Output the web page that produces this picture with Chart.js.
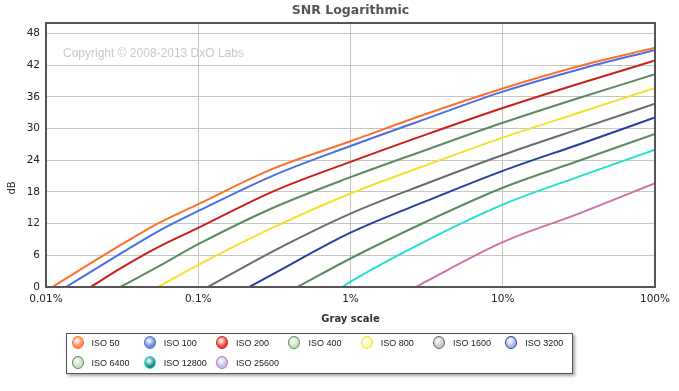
<!DOCTYPE html>
<html>
<head>
<meta charset="utf-8">
<title>SNR Logarithmic</title>
<script src="https://cdn.jsdelivr.net/npm/chart.js@4/dist/chart.umd.min.js"></script>
<style>
    html, body { margin: 0; padding: 0; background: #fff; }
    #wrap { position: relative; width: 679px; height: 391px; }
    #snr-chart { position: absolute; left: 0; top: 0; }
    #snr-legend {
        position: absolute; left: 66px; top: 333px; width: 505px; height: 39px;
        border: 1px solid #555; background: #fff;
        box-shadow: 2px 2px 3px rgba(0, 0, 0, 0.35);
        font: 9px 'Liberation Sans', Arial, sans-serif; color: #222;
    }
    #snr-legend .item { position: absolute; height: 14px; line-height: 14px; white-space: nowrap; }
    #snr-legend .dot {
        position: absolute; left: 0; top: 0; width: 10px; height: 11px;
        border: 1px solid #888; border-radius: 50%;
    }
    #snr-legend .txt { position: absolute; left: 20px; top: 0; }
</style>
</head>
<body>
<div id="wrap">
    <canvas id="snr-chart" width="679" height="391"></canvas>
    <div id="snr-legend"></div>
</div>
<script>
(function() {
    'use strict';

    // Gray levels (percent) where the curves are read
    var grayLevels = [0.0316, 0.0541, 0.1, 0.316, 1, 3.16, 10, 31.6, 100];

    // Series names
    var isoLabels = ['ISO 50', 'ISO 100', 'ISO 200', 'ISO 400', 'ISO 800',
        'ISO 1600', 'ISO 3200', 'ISO 6400', 'ISO 12800', 'ISO 25600'];

    // Gray level (percent) where each curve crosses 0 dB
    var zeroCrossing = [0.011, 0.0135, 0.0197, 0.0308, 0.0542, 0.1157, 0.2166, 0.448, 0.886, 2.69];

    // SNR in dB at each gray level (null = below 0 dB)
    var snrIso50    = [8.1, 12.0, 15.7, 22.5, 27.6, 32.8, 37.6, 41.8, 45.3];
    var snrIso100   = [6.5, 10.5, 14.4, 21.2, 26.7, 31.9, 37.0, 41.2, 44.9];
    var snrIso200   = [3.7, 7.5, 11.2, 18.2, 23.7, 28.9, 33.9, 38.5, 42.9];
    var snrIso400   = [null, 3.8, 8.1, 15.1, 20.8, 26.0, 31.1, 35.8, 40.3];
    var snrIso800   = [null, null, 4.2, 11.4, 17.7, 23.1, 28.3, 33.0, 37.7];
    var snrIso1600  = [null, null, null, 6.9, 13.9, 19.6, 25.0, 29.9, 34.7];
    var snrIso3200  = [null, null, null, 2.6, 10.3, 16.3, 22.0, 27.0, 32.1];
    var snrIso6400  = [null, null, null, null, 5.4, 12.4, 18.8, 23.9, 29.0];
    var snrIso12800 = [null, null, null, null, 1.0, 8.8, 15.6, 20.9, 26.0];
    var snrIso25600 = [null, null, null, null, null, 1.1, 8.5, 13.9, 19.65];

    // Axis ticks
    var xTicks = [0.01, 0.1, 1, 10, 100];
    var yTicks = [0, 6, 12, 18, 24, 30, 36, 42, 48];

    var allSeries = [snrIso50, snrIso100, snrIso200, snrIso400, snrIso800,
        snrIso1600, snrIso3200, snrIso6400, snrIso12800, snrIso25600];

    var lineColors = ['#ff6f2b', '#4b6fe0', '#cc1f1a', '#5b8a63', '#f5e02c',
        '#6b6b6b', '#24409a', '#5b8a63', '#22e0d2', '#d070a8'];
    var markerFills = ['#ff8a55', '#6a8ae0', '#ee4535', '#c8e0c0', '#fffaa8',
        '#c4c4c4', '#a4b6f0', '#c8e0c0', '#1a8a80', '#b8c0f0'];

    /**
     * Build point list for one curve
     */
    function buildPoints(values, start) {
        var pts = [{ x: start, y: 0 }];
        values.forEach(function(v, i) {
            if (v !== null) {
                pts.push({ x: grayLevels[i], y: v });
            }
        });
        return pts;
    }

    var datasets = allSeries.map(function(values, i) {
        return {
            label: isoLabels[i],
            data: buildPoints(values, zeroCrossing[i]),
            borderColor: lineColors[i],
            backgroundColor: markerFills[i],
            borderWidth: 2,
            pointRadius: 0,
            cubicInterpolationMode: 'monotone',
            fill: false
        };
    });

    // Title, watermark, axis titles and plot frame
    var decorations = {
        id: 'decorations',
        afterDraw: function(chart) {
            var ctx = chart.ctx;
            var area = chart.chartArea;
            var cx = (area.left + area.right) / 2;
            ctx.save();

            ctx.textAlign = 'center';
            ctx.textBaseline = 'middle';
            ctx.fillStyle = '#555';
            ctx.font = 'bold 12.5px "DejaVu Sans", Verdana, sans-serif';
            ctx.fillText('SNR Logarithmic', cx, 11);

            ctx.fillStyle = '#333';
            ctx.font = 'bold 10px "DejaVu Sans", Verdana, sans-serif';
            ctx.fillText('Gray scale', cx, 319);

            ctx.save();
            ctx.translate(12, 188);
            ctx.rotate(-Math.PI / 2);
            ctx.font = '10px "DejaVu Sans", Verdana, sans-serif';
            ctx.fillText('dB', 0, 0);
            ctx.restore();

            ctx.textAlign = 'left';
            ctx.fillStyle = '#c8c8c8';
            ctx.font = '12px "Liberation Sans", Arial, sans-serif';
            ctx.fillText('Copyright \u00a9 2008-2013 DxO Labs', 63, 54);

            ctx.strokeStyle = '#555';
            ctx.lineWidth = 2;
            ctx.strokeRect(area.left, area.top, area.right - area.left, area.bottom - area.top);
            ctx.restore();
        }
    };

    var chart = new Chart(document.getElementById('snr-chart'), {
        type: 'line',
        data: { datasets: datasets },
        plugins: [decorations],
        options: {
            responsive: false,
            animation: false,
            layout: { padding: { left: 0, top: 23, right: 24, bottom: 0 } },
            plugins: {
                legend: { display: false },
                title: { display: false },
                tooltip: { enabled: false }
            },
            scales: {
                x: {
                    type: 'logarithmic',
                    min: 0.01,
                    max: 100,
                    afterBuildTicks: function(scale) {
                        scale.ticks = xTicks.map(function(v) { return { value: v }; });
                    },
                    afterFit: function(scale) { scale.height = 104; },
                    grid: { color: '#c6c6c6', lineWidth: 1, drawTicks: false },
                    border: { display: false },
                    ticks: {
                        padding: 6,
                        maxRotation: 0,
                        color: '#222',
                        font: { family: '"DejaVu Sans", Verdana, sans-serif', size: 10.5 },
                        callback: function(v) { return v + '%'; }
                    }
                },
                y: {
                    type: 'linear',
                    min: 0,
                    max: 50,
                    afterBuildTicks: function(scale) {
                        scale.ticks = yTicks.map(function(v) { return { value: v }; });
                    },
                    afterFit: function(scale) { scale.width = 46; },
                    grid: { color: '#c6c6c6', lineWidth: 1, drawTicks: false },
                    border: { display: false },
                    ticks: {
                        padding: 6,
                        color: '#222',
                        font: { family: '"DejaVu Sans", Verdana, sans-serif', size: 10.5 }
                    }
                }
            }
        }
    });

    // HTML legend in fixed columns
    var legendBox = document.getElementById('snr-legend');
    chart.data.datasets.forEach(function(ds, i) {
        var col = i % 7;
        var row = Math.floor(i / 7);
        var item = document.createElement('div');
        item.className = 'item';
        item.style.left = (4.5 + col * 72.3) + 'px';
        item.style.top = (1.5 + row * 20.6) + 'px';
        var dot = document.createElement('span');
        dot.className = 'dot';
        dot.style.background = 'radial-gradient(circle at 40% 35%, rgba(255,255,255,0.35), ' + ds.backgroundColor + ' 60%)';
        dot.style.borderColor = ds.borderColor;
        var txt = document.createElement('span');
        txt.className = 'txt';
        txt.textContent = ds.label;
        item.appendChild(dot);
        item.appendChild(txt);
        legendBox.appendChild(item);
    });
})();
</script>
</body>
</html>
